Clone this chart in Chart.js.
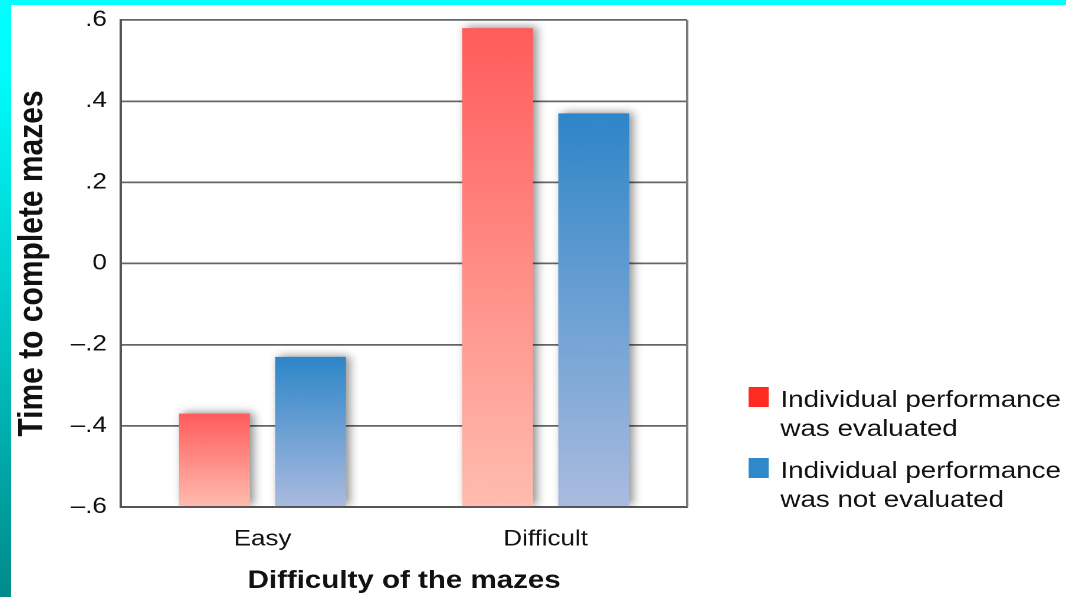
<!DOCTYPE html>
<html>
<head>
<meta charset="utf-8">
<title>Time to complete mazes</title>
<script src="https://cdn.jsdelivr.net/npm/chart.js@4.4.1/dist/chart.umd.min.js"></script>
<style>
  html, body { margin: 0; padding: 0; width: 1066px; height: 597px; overflow: hidden; }
  body { background: linear-gradient(to bottom, #00ffff 0%, #00fcfc 12%, #008a8a 100%); position: relative; }
  #topband { position: absolute; left: 0; top: 0; width: 1066px; height: 5px; background: #00ffff; }
  #sheet { position: absolute; left: 11px; top: 5px; width: 1055px; height: 592px; background: #ffffff; overflow: hidden; }
  #wrap { position: absolute; left: 0; top: 0; width: 894px; height: 592px; transform: scaleX(1.1801); transform-origin: 0 0; }
</style>
</head>
<body>
<div id="topband"></div>
<div id="sheet"><div id="wrap"><canvas id="chart" width="894" height="592"></canvas></div></div>
<script>
// Maze completion time (standardised) by maze difficulty and evaluation condition
const categories = ['Easy', 'Difficult'];
const evaluatedTimes = [-0.37, 0.58];
const notEvaluatedTimes = [-0.23, 0.37];
const seriesLines = [
  ['Individual performance', 'was evaluated'],
  ['Individual performance', 'was not evaluated']
];
const yTickValues = [-0.6, -0.4, -0.2, 0, 0.2, 0.4, 0.6];
const yTickLabels = ['–.6', '–.4', '–.2', '0', '.2', '.4', '.6'];

const FONT = '"Liberation Sans", Arial, Helvetica, sans-serif';
const TEXT = '#111111';
const Y_MIN = yTickValues[0];
const Y_MAX = yTickValues[yTickValues.length - 1];

// vertical fade per bar: saturated at the top, pale at the base
function barGradient(topColor, bottomColor) {
  return (ctx) => {
    const chart = ctx.chart;
    if (!chart.chartArea || ctx.type !== 'data' || !chart.scales.y) return topColor;
    const y = chart.scales.y;
    const yTop = y.getPixelForValue(ctx.raw);
    const yBase = y.getPixelForValue(Y_MIN);
    const g = chart.ctx.createLinearGradient(0, yTop, 0, yBase);
    g.addColorStop(0, topColor);
    g.addColorStop(1, bottomColor);
    return g;
  };
}

// closes the plot frame on the right-hand side
const plotFrame = {
  id: 'plotFrame',
  beforeDatasetsDraw(chart) {
    const { ctx, chartArea: a } = chart;
    ctx.save();
    ctx.strokeStyle = '#7a7a7a';
    ctx.lineWidth = 2;
    ctx.beginPath();
    ctx.moveTo(a.right, a.top);
    ctx.lineTo(a.right, a.bottom);
    ctx.stroke();
    ctx.restore();
  }
};

// soft drop shadow behind the bars
const barShadow = {
  id: 'barShadow',
  beforeDatasetsDraw(chart) {
    const ctx = chart.ctx;
    const r = chart.currentDevicePixelRatio || 1;
    ctx.save();
    ctx.shadowColor = 'rgba(0,0,0,0.45)';
    ctx.shadowBlur = 8 * r;
    ctx.shadowOffsetX = 3 * r;
    ctx.shadowOffsetY = -1 * r;
  },
  afterDatasetsDraw(chart) {
    chart.ctx.restore();
  }
};

// two-line legend entries to the right of the plot
const legendColors = ['#ff2a20', '#2e88c9'];
const sideLegend = {
  id: 'sideLegend',
  afterDraw(chart) {
    const ctx = chart.ctx;
    const a = chart.chartArea;
    ctx.save();
    ctx.font = '23.5px ' + FONT;
    ctx.textBaseline = 'alphabetic';
    const boxX = a.right + 52;
    const textX = a.right + 79;
    const tops = [382, 453];
    seriesLines.forEach((lines, i) => {
      ctx.fillStyle = legendColors[i];
      ctx.fillRect(boxX, tops[i], 17, 20);
      ctx.fillStyle = TEXT;
      lines.forEach((line, j) => ctx.fillText(line, textX, tops[i] + 20 + j * 29));
    });
    ctx.restore();
  }
};

new Chart(document.getElementById('chart'), {
  type: 'bar',
  data: {
    labels: categories,
    datasets: [
      {
        label: seriesLines[0].join(' '),
        data: evaluatedTimes,
        base: Y_MIN,
        backgroundColor: barGradient('#ff5c5c', '#ffbdb0'),
        borderWidth: 0,
        categoryPercentage: 0.679,
        barPercentage: 0.737
      },
      {
        label: seriesLines[1].join(' '),
        data: notEvaluatedTimes,
        base: Y_MIN,
        backgroundColor: barGradient('#2e86c8', '#abbbdf'),
        borderWidth: 0,
        categoryPercentage: 0.679,
        barPercentage: 0.737
      }
    ]
  },
  options: {
    responsive: false,
    animation: false,
    devicePixelRatio: 2,
    layout: { padding: { top: 15, right: 321, left: 0, bottom: 0 } },
    plugins: {
      legend: { display: false },
      tooltip: { enabled: false }
    },
    scales: {
      x: {
        grid: { display: false },
        border: { display: true, color: '#555555', width: 2 },
        ticks: { color: TEXT, font: { family: FONT, size: 22 }, padding: 11 },
        title: {
          display: true,
          text: 'Difficulty of the mazes',
          color: TEXT,
          font: { family: FONT, size: 25, weight: 'bold' },
          padding: { top: 0, bottom: 1 }
        },
        afterFit(scale) { scale.height = 90; }
      },
      y: {
        min: Y_MIN,
        max: Y_MAX,
        afterBuildTicks(scale) { scale.ticks = yTickValues.map(v => ({ value: v })); },
        grid: { color: '#666666', lineWidth: 1.7, drawTicks: false },
        border: { display: true, color: '#555555', width: 2 },
        ticks: {
          color: TEXT,
          font: { family: FONT, size: 22 },
          padding: 12,
          callback: (value, index) => yTickLabels[index]
        },
        title: {
          display: true,
          text: 'Time to complete mazes',
          color: TEXT,
          font: { family: FONT, size: 30, weight: 'bold' },
          padding: { top: 0, bottom: 0 }
        },
        afterFit(scale) {
          scale.width = 93.2;
          scale.paddingTop = 15;
          scale.paddingBottom = 0;
        }
      }
    }
  },
  plugins: [plotFrame, barShadow, sideLegend]
});
</script>
</body>
</html>
